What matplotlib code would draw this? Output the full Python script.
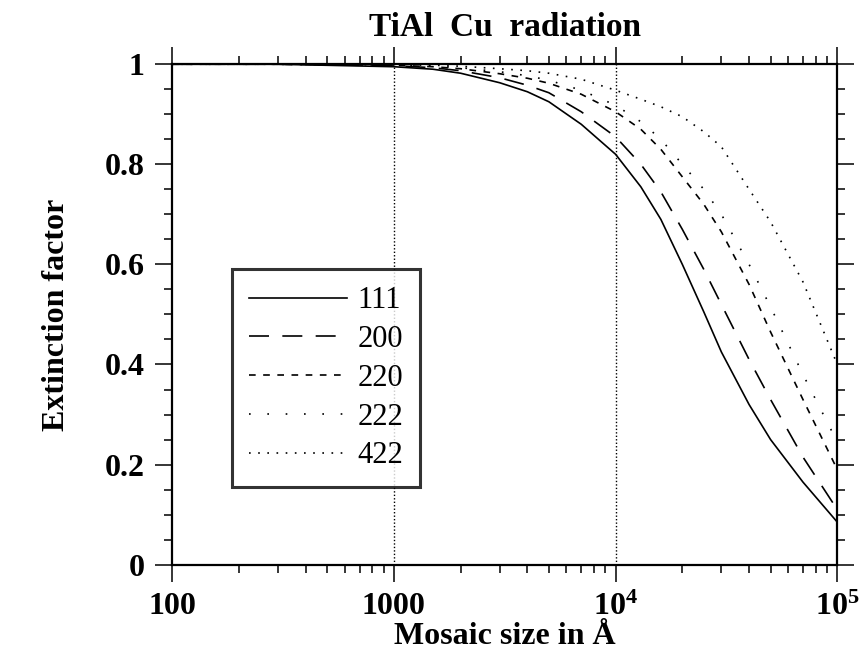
import numpy as np
import matplotlib
matplotlib.use('Agg')
import matplotlib.pyplot as plt
from matplotlib.ticker import FixedLocator, NullFormatter

plt.rcParams['font.family'] = ['Liberation Serif', 'DejaVu Serif']
plt.rcParams['mathtext.fontset'] = 'custom'
plt.rcParams['mathtext.rm'] = 'Liberation Serif'
plt.rcParams['mathtext.bf'] = 'Liberation Serif:bold'

# mosaic size (Angstrom) and extinction factors
size = [100, 300, 1000, 1500, 2000, 3000, 4000, 5000, 7000, 10000, 13000,
        16000, 20000, 25000, 30000, 40000, 50000, 70000, 100000]
ext_111 = [1.0, 1.0, 0.995, 0.99, 0.982, 0.963, 0.945, 0.925, 0.88, 0.82,
           0.755, 0.69, 0.60, 0.505, 0.425, 0.32, 0.25, 0.165, 0.085]
ext_200 = [1.0, 1.0, 0.997, 0.993, 0.987, 0.973, 0.958, 0.943, 0.905, 0.855,
           0.80, 0.745, 0.67, 0.59, 0.52, 0.41, 0.33, 0.215, 0.11]
ext_220 = [1.0, 1.0, 0.998, 0.995, 0.991, 0.981, 0.972, 0.962, 0.94, 0.905,
           0.87, 0.83, 0.775, 0.72, 0.665, 0.56, 0.465, 0.33, 0.19]
ext_222 = [1.0, 1.0, 0.998, 0.996, 0.993, 0.985, 0.977, 0.968, 0.948, 0.918,
           0.885, 0.85, 0.80, 0.75, 0.70, 0.60, 0.515, 0.38, 0.245]
ext_422 = [1.0, 1.0, 0.999, 0.998, 0.996, 0.991, 0.987, 0.982, 0.97, 0.948,
           0.93, 0.915, 0.895, 0.865, 0.835, 0.75, 0.685, 0.565, 0.40]
labels = ['111', '200', '220', '222', '422']
styles = ['-', (0, (12, 8)), (0, (4, 4.5)), (0, (1, 10)), (0, (1, 4.5))]

xticks = [100, 1000, 1e4, 1e5]
xticklabels = ['100', '1000', r'$\mathbf{10^4}$', r'$\mathbf{10^5}$']
yticks = [0, 0.2, 0.4, 0.6, 0.8, 1]
yticklabels = ['0', '0.2', '0.4', '0.6', '0.8', '1']

fig = plt.figure(figsize=(8.65, 6.62), dpi=100)
ax = fig.add_axes([0.199, 0.147, 0.769, 0.756])

for y, lab, ls in zip([ext_111, ext_200, ext_220, ext_222, ext_422], labels, styles):
    ax.plot(size, y, color='black', lw=1.2, linestyle=ls, label=lab)

ax.axvline(1000, color='black', lw=1.0, linestyle=(0, (1, 1.5)))
ax.axvline(10000, color='black', lw=1.0, linestyle=(0, (1, 1.5)))

ax.set_xscale('log')
ax.set_xlim(100, 1e5)
ax.set_ylim(0, 1)

ax.xaxis.set_major_locator(FixedLocator(xticks))
ax.set_xticklabels(xticklabels)
ax.xaxis.set_minor_locator(FixedLocator(
    [m * d for d in [100, 1000, 10000] for m in range(2, 10)]))
ax.xaxis.set_minor_formatter(NullFormatter())
ax.yaxis.set_major_locator(FixedLocator(yticks))
ax.set_yticklabels(yticklabels)
ax.yaxis.set_minor_locator(FixedLocator(np.arange(0.05, 1.0, 0.05)))

ax.tick_params(which='both', direction='out', top=True, right=True,
               labeltop=False, labelright=False, width=1.1)
ax.tick_params(which='major', length=12)
ax.tick_params(which='minor', length=6)
ax.tick_params(axis='both', labelsize=23, pad=8)
for t in ax.get_xticklabels() + ax.get_yticklabels():
    t.set_fontweight('bold')
for s in ax.spines.values():
    s.set_linewidth(1.6)

ax.set_xlabel('Mosaic size in Å', fontsize=23, fontweight='bold', labelpad=0)
ax.set_ylabel('Extinction factor', fontsize=23, fontweight='bold', labelpad=24)
ax.set_title('TiAl  Cu  radiation', fontsize=24, fontweight='bold', pad=20)

leg = ax.legend(loc='upper left', bbox_to_anchor=(0.09, 0.59), fontsize=22,
                handlelength=3.2, frameon=True, fancybox=False,
                edgecolor='black', borderpad=0.55, labelspacing=0.32,
                handletextpad=0.35, borderaxespad=0)
leg.get_frame().set_linewidth(2.2)

fig.savefig('out.png', dpi=100)
